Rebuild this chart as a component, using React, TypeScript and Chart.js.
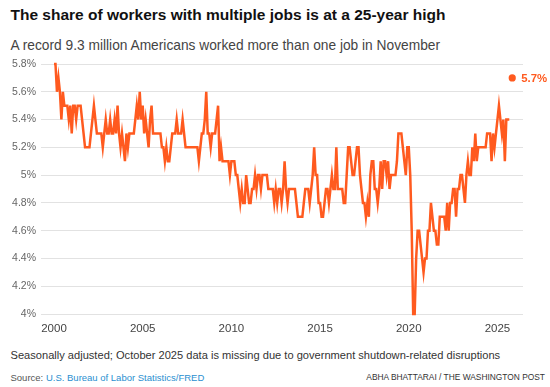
import { useEffect, useRef } from "react";
import { Chart, registerables } from "chart.js";

Chart.register(...registerables);

// Multiple jobholders as a percent of employed, monthly (Jan..Dec)
const y2000 = [5.8, 5.8, 5.6, 5.7, 5.6, 5.4, 5.6, 5.5, 5.5, 5.5, 5.4, 5.5];
const y2001 = [5.3, 5.5, 5.5, 5.4, 5.5, 5.5, 5.5, 5.4, 5.3, 5.2, 5.2, 5.2];
const y2002 = [5.2, 5.3, 5.4, 5.5, 5.4, 5.3, 5.3, 5.3, 5.3, 5.2, 5.3, 5.4];
const y2003 = [5.3, 5.3, 5.4, 5.3, 5.3, 5.4, 5.3, 5.5, 5.3, 5.2, 5.3, 5.2];
const y2004 = [5.1, 5.3, 5.2, 5.3, 5.3, 5.3, 5.3, 5.4, 5.5, 5.4, 5.6, 5.4];
const y2005 = [5.5, 5.3, 5.4, 5.3, 5.2, 5.4, 5.5, 5.3, 5.3, 5.3, 5.3, 5.3];
const y2006 = [5.3, 5.2, 5.2, 5.1, 5.2, 5.1, 5.1, 5.2, 5.3, 5.3, 5.3, 5.4];
const y2007 = [5.3, 5.3, 5.3, 5.4, 5.3, 5.2, 5.2, 5.2, 5.2, 5.2, 5.2, 5.2];
const y2008 = [5.2, 5.2, 5.1, 5.2, 5.3, 5.3, 5.4, 5.6, 5.3, 5.3, 5.2, 5.3];
const y2009 = [5.3, 5.3, 5.4, 5.5, 5.1, 5.2, 5.1, 5.1, 5.1, 5.1, 5.1, 5.0];
const y2010 = [5.1, 5.1, 5.1, 5.0, 5.0, 4.9, 4.8, 4.9, 4.8, 4.8, 5.0, 4.9];
const y2011 = [4.8, 4.8, 4.9, 4.9, 5.0, 4.9, 5.0, 5.0, 4.9, 5.0, 5.0, 5.0];
const y2012 = [5.0, 4.9, 4.9, 4.9, 4.9, 4.8, 4.9, 4.8, 4.9, 4.9, 4.8, 4.9];
const y2013 = [5.1, 4.9, 4.8, 4.9, 4.9, 4.9, 4.9, 4.9, 4.8, 4.7, 4.7, 4.7];
const y2014 = [4.7, 4.8, 4.9, 4.9, 4.9, 4.8, 4.9, 5.0, 5.2, 5.0, 5.0, 4.8];
const y2015 = [4.8, 4.7, 4.7, 4.8, 4.9, 4.9, 4.8, 4.9, 5.0, 4.9, 4.9, 5.2];
const y2016 = [4.9, 4.9, 4.9, 4.9, 4.8, 4.8, 5.0, 5.2, 5.2, 5.1, 5.0, 5.0];
const y2017 = [5.1, 5.2, 5.2, 5.0, 4.9, 4.8, 4.8, 4.7, 4.8, 4.7, 5.0, 5.1];
const y2018 = [5.1, 4.9, 4.9, 4.8, 4.9, 5.1, 4.9, 5.1, 5.1, 5.0, 5.1, 4.9];
const y2019 = [5.0, 5.0, 5.0, 5.0, 5.1, 5.3, 5.3, 5.3, 5.2, 5.1, 5.0, 5.2];
const y2020 = [5.2, 5.0, 4.6, 4.0, 4.0, 4.4, 4.6, 4.6, 4.5, 4.4, 4.3, 4.4];
const y2021 = [4.4, 4.6, 4.6, 4.8, 4.7, 4.6, 4.6, 4.5, 4.5, 4.7, 4.7, 4.7];
const y2022 = [4.7, 4.6, 4.8, 4.6, 4.8, 4.8, 4.9, 4.9, 4.7, 4.9, 4.9, 5.0];
const y2023 = [5.0, 4.9, 4.8, 5.0, 5.1, 5.0, 5.0, 5.2, 5.1, 5.3, 5.1, 5.2];
const y2024 = [5.2, 5.2, 5.2, 5.2, 5.2, 5.3, 5.3, 5.3, 5.1, 5.3, 5.2, 5.3];
// October 2025 missing (null), November 2025 = 5.7
const y2025: (number | null)[] = [5.4, 5.5, 5.4, 5.3, 5.4, 5.1, 5.4, 5.4, 5.4, null, 5.7];

const startYear = 2000;
const yearSeries = [
  y2000, y2001, y2002, y2003, y2004, y2005, y2006, y2007, y2008, y2009,
  y2010, y2011, y2012, y2013, y2014, y2015, y2016, y2017, y2018, y2019,
  y2020, y2021, y2022, y2023, y2024, y2025,
];

const xTicks = [2000, 2005, 2010, 2015, 2020, 2025];
const yTicks = [4, 4.2, 4.4, 4.6, 4.8, 5, 5.2, 5.4, 5.6, 5.8];

const ORANGE = "#ff5a1f";
const FONT = '"Liberation Sans", Arial, sans-serif';

export default function App() {
  const ref = useRef<HTMLCanvasElement>(null);

  useEffect(() => {
    document.body.style.margin = "0";
    const points: { x: number; y: number | null }[] = [];
    yearSeries.forEach((arr, yi) => {
      arr.forEach((v, mi) => {
        points.push({ x: startYear + yi + mi / 12, y: v });
      });
    });
    const lastIdx = points.length - 1;
    const lastValue = points[lastIdx].y;

    const labelPlugin = {
      id: "lastLabel",
      afterDatasetsDraw(chart: any) {
        const meta = chart.getDatasetMeta(0);
        const p = meta.data[lastIdx];
        if (!p) return;
        const ctx = chart.ctx;
        ctx.save();
        ctx.font = `bold 11.4px ${FONT}`;
        ctx.fillStyle = ORANGE;
        ctx.textAlign = "left";
        ctx.textBaseline = "middle";
        ctx.fillText(`${lastValue}%`, p.x + 9, p.y + 0.5);
        ctx.restore();
      },
    };

    const chart = new Chart(ref.current!, {
      type: "line",
      data: {
        datasets: [
          {
            data: points as any,
            borderColor: ORANGE,
            backgroundColor: ORANGE,
            borderWidth: 2.5,
            tension: 0,
            spanGaps: false,
            clip: 4,
            pointRadius: (ctx: any) => (ctx.dataIndex === lastIdx ? 3.6 : 0),
            pointBackgroundColor: ORANGE,
            pointBorderWidth: 0,
            pointHoverRadius: 0,
          },
        ],
      },
      options: {
        animation: false,
        responsive: false,
        events: [],
        layout: { padding: { top: 14, right: 27, left: 0, bottom: 0 } },
        plugins: { legend: { display: false }, tooltip: { enabled: false } },
        scales: {
          x: {
            type: "linear",
            min: 1999.267,
            max: 2026.44,
            afterBuildTicks: (s: any) => {
              s.ticks = xTicks.map((v) => ({ value: v }));
            },
            afterFit: (s: any) => {
              s.height = 26;
            },
            grid: { display: false, drawTicks: false },
            border: { display: false },
            ticks: {
              padding: 8,
              color: "#444",
              font: { family: FONT, size: 11.5 },
              callback: (v: any) => String(v),
              maxRotation: 0,
            },
          },
          y: {
            min: 4,
            max: 5.8,
            afterBuildTicks: (s: any) => {
              s.ticks = yTicks.map((v) => ({ value: v }));
            },
            afterFit: (s: any) => {
              s.width = 41;
            },
            grid: { color: "#e2e2e2", lineWidth: 1, drawTicks: false },
            border: { display: false },
            ticks: {
              padding: 5,
              color: "#666",
              font: { family: FONT, size: 10.5 },
              callback: (v: any) => `${Number(v).toFixed(1).replace(/\.0$/, "")}%`,
            },
          },
        },
      },
      plugins: [labelPlugin],
    });
    return () => chart.destroy();
  }, []);

  const abs = (left: number, top: number, size: number, extra: any = {}) => ({
    position: "absolute" as const,
    left,
    top,
    fontSize: size,
    lineHeight: `${size}px`,
    whiteSpace: "nowrap" as const,
    fontFamily: FONT,
    ...extra,
  });

  return (
    <div
      style={{
        position: "relative",
        width: 550,
        height: 387,
        background: "#fff",
        overflow: "hidden",
        fontFamily: FONT,
      }}
    >
      <div style={abs(10.5, 7.4, 15.5, { fontWeight: "bold", color: "#111" })}>
        The share of workers with multiple jobs is at a 25-year high
      </div>
      <div style={abs(10.5, 39.4, 13.75, { color: "#444" })}>
        A record 9.3 million Americans worked more than one job in November
      </div>
      <canvas
        ref={ref}
        width={550}
        height={290}
        style={{ position: "absolute", left: 0, top: 50, width: 550, height: 290, display: "block" }}
      />
      <div style={abs(10.5, 349.6, 11.1, { color: "#333" })}>
        Seasonally adjusted; October 2025 data is missing due to government shutdown-related disruptions
      </div>
      <div style={abs(10.5, 372.5, 9.5, { color: "#555" })}>
        Source: <span style={{ color: "#2a8fd0" }}>U.S. Bureau of Labor Statistics/FRED</span>
      </div>
      <div
        style={{
          ...abs(0, 373.4, 8.4, { color: "#333" }),
          left: "auto",
          right: 5,
        }}
      >
        ABHA BHATTARAI / THE WASHINGTON POST
      </div>
    </div>
  );
}
